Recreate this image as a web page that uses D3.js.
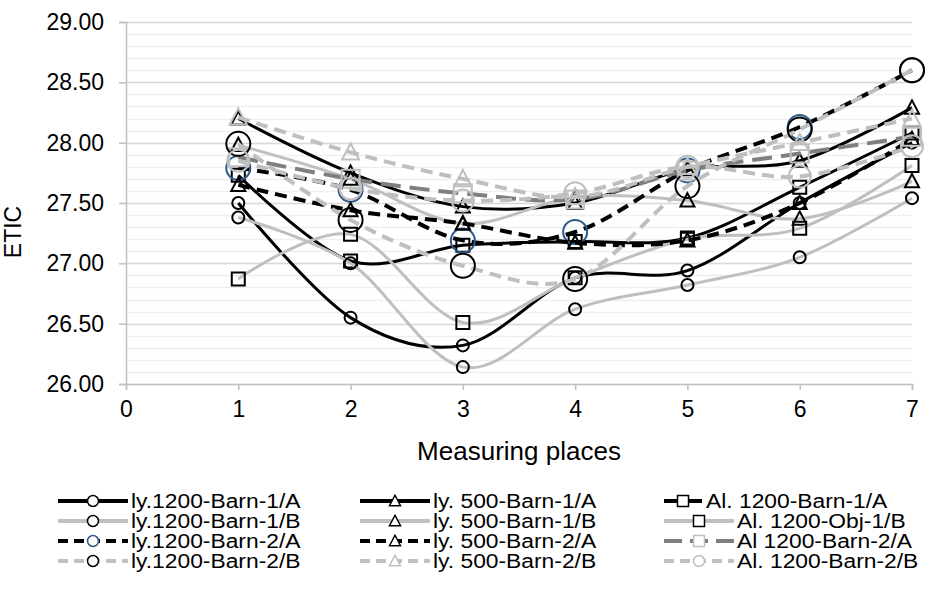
<!DOCTYPE html>
<html lang="en">
<head>
  <meta charset="UTF-8">
  <title>ETIC by measuring place</title>
  <script src="https://d3js.org/d3.v7.min.js"></script>
  <style>
    body { margin: 0; background: #fff; }
    text { font-family: "Liberation Sans", Arial, sans-serif; fill: #000; }
  </style>
</head>
<body>
<script>
  // measuring places 1..7
  var places = [1, 2, 3, 4, 5, 6, 7];
  var xTicks = [0, 1, 2, 3, 4, 5, 6, 7];
  var yTicks = [26, 26.5, 27, 27.5, 28, 28.5, 29];

  // series in legend order (row by row)
  var names = [
    "ly.1200-Barn-1/A", "ly. 500-Barn-1/A", "Al. 1200-Barn-1/A",
    "ly.1200-Barn-1/B", "ly. 500-Barn-1/B", "Al. 1200-Obj-1/B",
    "ly.1200-Barn-2/A", "ly. 500-Barn-2/A", "Al 1200-Barn-2/A",
    "ly.1200-Barn-2/B", "ly. 500-Barn-2/B", "Al. 1200-Barn-2/B"
  ];
  var ly1200Barn1A = [27.50, 26.55, 26.32, 26.88, 26.94, 27.50, 28.00];
  var ly500Barn1A  = [28.20, 27.75, 27.47, 27.50, 27.78, 27.85, 28.29];
  var al1200Barn1A = [27.73, 27.02, 27.15, 27.18, 27.21, 27.63, 28.08];
  var ly1200Barn1B = [27.38, 27.00, 26.14, 26.62, 26.82, 27.05, 27.54];
  var ly500Barn1B  = [27.98, 27.70, 27.33, 27.55, 27.52, 27.37, 27.68];
  var al1200Obj1B  = [26.87, 27.24, 26.51, 26.88, 27.20, 27.29, 27.81];
  var ly1200Barn2A = [27.79, 27.61, 27.19, 27.26, 27.77, 28.13, 28.60];
  var ly500Barn2A  = [27.65, 27.44, 27.33, 27.17, 27.19, 27.50, 28.03];
  var al1200Barn2A = [27.88, 27.70, 27.58, 27.53, 27.77, 27.91, 28.05];
  var ly1200Barn2B = [27.99, 27.36, 26.98, 26.87, 27.64, 28.11, 28.60];
  var ly500Barn2B  = [28.21, 27.92, 27.70, 27.55, 27.80, 28.00, 28.20];
  var al1200Barn2B = [27.85, 27.62, 27.52, 27.58, 27.80, 27.72, 27.97];

  var values = [ly1200Barn1A, ly500Barn1A, al1200Barn1A, ly1200Barn1B, ly500Barn1B, al1200Obj1B,
                ly1200Barn2A, ly500Barn2A, al1200Barn2A, ly1200Barn2B, ly500Barn2B, al1200Barn2B];

  var black = "#000", light = "#bfbfbf", dark = "#7f7f7f", blue = "#2e5a8a";
  // line colour, dash, marker shape, marker stroke, marker size
  var styles = [
    { c: black, dash: null,    m: "circle",   ms: black, r: 6 },
    { c: black, dash: null,    m: "triangle", ms: black, r: 7 },
    { c: black, dash: null,    m: "square",   ms: black, r: 6.5 },
    { c: light, dash: null,    m: "circle",   ms: black, r: 6 },
    { c: light, dash: null,    m: "triangle", ms: black, r: 7 },
    { c: light, dash: null,    m: "square",   ms: black, r: 6.5 },
    { c: black, dash: "12,7",  m: "circle",   ms: blue,  r: 12 },
    { c: black, dash: "12,7",  m: "triangle", ms: black, r: 7 },
    { c: dark,  dash: "20,9",  m: "square",   ms: light, r: 9 },
    { c: light, dash: "12,7",  m: "circle",   ms: black, r: 12 },
    { c: light, dash: "12,7",  m: "triangle", ms: light, r: 8.5 },
    { c: light, dash: "12,7",  m: "circle",   ms: light, r: 11 }
  ];

  var W = 934, H = 596;
  var svg = d3.select("body").append("svg").attr("width", W).attr("height", H);

  var x = d3.scaleLinear().domain([0, 7]).range([126, 912]);
  var y = d3.scaleLinear().domain([26, 29]).range([384, 22]);

  // minor gridlines every 0.1, major every 0.5
  var minor = d3.range(26, 29.001, 0.1);
  svg.append("g").selectAll("line").data(minor).enter().append("line")
    .attr("x1", x(0)).attr("x2", x(7))
    .attr("y1", function (d) { return Math.round(y(d)) + 0.5; })
    .attr("y2", function (d) { return Math.round(y(d)) + 0.5; })
    .style("stroke", "#efefef").style("stroke-width", 1.5);
  svg.append("g").selectAll("line").data(yTicks.slice(1)).enter().append("line")
    .attr("x1", x(0)).attr("x2", x(7))
    .attr("y1", function (d) { return Math.round(y(d)) + 0.5; })
    .attr("y2", function (d) { return Math.round(y(d)) + 0.5; })
    .style("stroke", "#d9d9d9").style("stroke-width", 1.5);

  // axes
  var yAxis = svg.append("g").attr("transform", "translate(" + x(0) + ",0)")
    .call(d3.axisLeft(y).tickValues(yTicks).tickFormat(d3.format(".2f")).tickSize(7).tickPadding(15));
  var xAxis = svg.append("g").attr("transform", "translate(0," + y(26) + ")")
    .call(d3.axisBottom(x).tickValues(xTicks).tickFormat(d3.format("d")).tickSize(6).tickPadding(11));
  [yAxis, xAxis].forEach(function (a) {
    a.select(".domain").style("stroke", "#bfbfbf").style("stroke-width", 1.5);
    a.selectAll(".tick line").style("stroke", "#bfbfbf").style("stroke-width", 1.5);
    a.selectAll(".tick text").style("font-size", "23px")
      .style("font-family", "'Liberation Sans', Arial, sans-serif").style("fill", "#000");
  });

  svg.append("text").attr("x", (x(0) + x(7)) / 2).attr("y", 460)
    .attr("text-anchor", "middle").style("font-size", "26px").text("Measuring places");
  svg.append("text").attr("transform", "translate(21,232) rotate(-90)")
    .attr("text-anchor", "middle").style("font-size", "23px").text("ETIC");

  function markerPath(shape, r) {
    if (shape === "circle") return d3.symbol().type(d3.symbolCircle).size(Math.PI * r * r)();
    if (shape === "square") return "M" + (-r) + "," + (-r) + "h" + 2 * r + "v" + 2 * r + "h" + (-2 * r) + "Z";
    var h = r * 1.9;
    return "M0," + (-h * 0.55) + "L" + r + "," + (h * 0.45) + "L" + (-r) + "," + (h * 0.45) + "Z";
  }

  var line = d3.line()
    .x(function (d, i) { return x(places[i]); })
    .y(function (d) { return y(d); })
    .curve(d3.curveCatmullRom.alpha(0));

  values.forEach(function (vals, k) {
    var s = styles[k];
    var g = svg.append("g");
    g.append("path").datum(vals).attr("d", line)
      .style("fill", "none").style("stroke", s.c)
      .style("stroke-width", s.dash ? 4 : 3)
      .style("stroke-dasharray", s.dash);
    g.selectAll("path.mk").data(vals).enter().append("path").attr("class", "mk")
      .attr("transform", function (d, i) { return "translate(" + x(places[i]) + "," + y(d) + ")"; })
      .attr("d", markerPath(s.m, s.r))
      .style("fill", "none").style("stroke", s.ms).style("stroke-width", 2);
  });

  // legend, three columns; text is wide and short in the original
  var colX = [58, 360, 664];
  var rowY = [501, 521, 541, 561];
  names.forEach(function (n, k) {
    var s = styles[k];
    var cx = colX[k % 3], cy = rowY[Math.floor(k / 3)];
    var lineEnd = cx + 70, tx = cx + 73;
    if (k === 2) { lineEnd = cx + 38; tx = cx + 42; }
    var g = svg.append("g");
    g.append("line").attr("x1", cx).attr("x2", lineEnd).attr("y1", cy).attr("y2", cy)
      .style("stroke", s.c).style("stroke-width", 4)
      .style("stroke-dasharray", s.dash ? (s.c === dark ? "18,8" : "10,6") : null);
    g.append("path").attr("transform", "translate(" + ((cx + lineEnd) / 2) + "," + cy + ")")
      .attr("d", markerPath(s.m, 5.5))
      .style("fill", "#fff").style("stroke", s.ms).style("stroke-width", 1.5);
    g.append("text").attr("transform", "translate(" + tx + "," + cy + ") scale(1.17,1)")
      .attr("dy", "0.36em").style("font-size", "19.5px").text(n);
  });
</script>
</body>
</html>
